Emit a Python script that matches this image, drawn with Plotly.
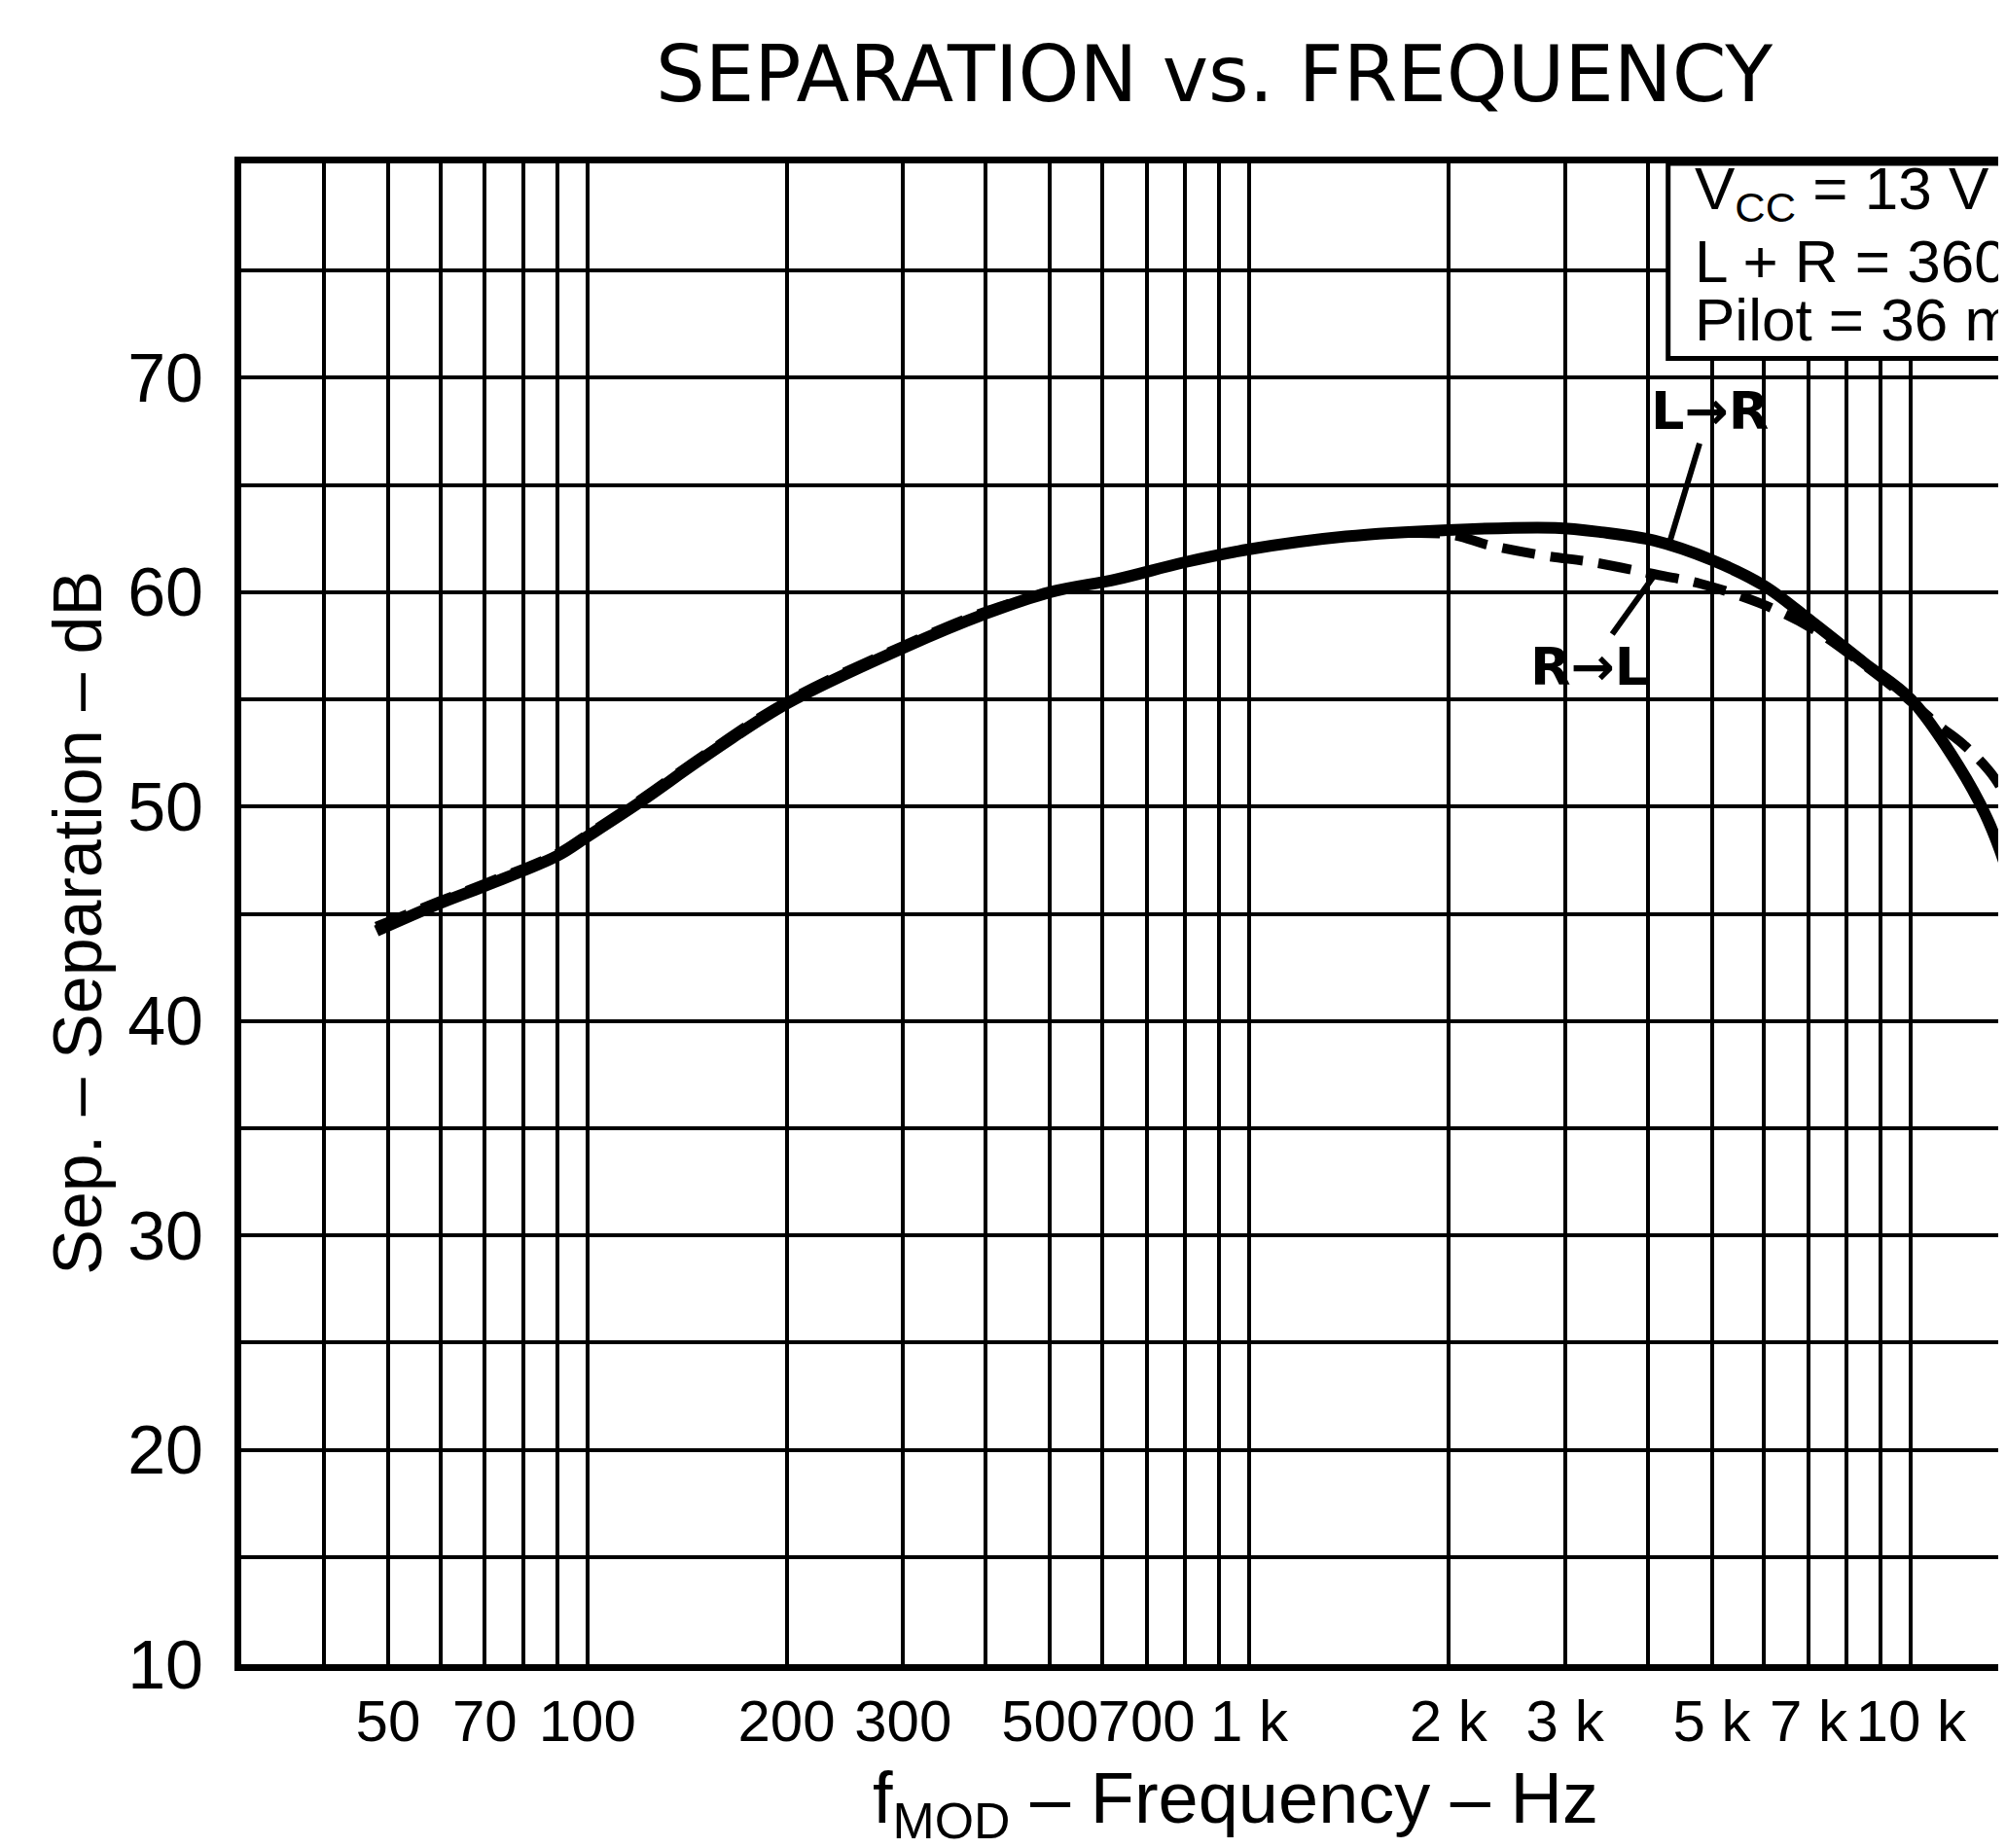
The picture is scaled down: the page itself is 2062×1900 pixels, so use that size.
import math
import plotly.graph_objects as go

# L -> R separation (solid), Hz / dB
freq_lr = [48, 60, 70, 90, 100, 120, 150, 200, 300, 400, 500, 630, 800,
           1000, 1400, 2000, 2900, 3400, 4100, 5000, 6000, 7100, 8500,
           10000, 11800, 13100, 14300, 15500]
sep_lr = [44.2, 45.5, 46.3, 47.7, 48.6, 50.2, 52.3, 54.8, 57.4, 59.0, 60.0,
          60.6, 61.4, 62.0, 62.6, 62.9, 63.0, 62.8, 62.4, 61.5, 60.3, 58.6,
          56.7, 55.0, 51.9, 49.3, 46.0, 41.5]

# R -> L separation (dashed)
freq_rl = [48, 60, 70, 90, 100, 120, 150, 200, 300, 400, 500, 630, 800,
           1000, 1400, 2000, 2300, 2800, 3300, 4000, 4800, 5900, 7100, 8500,
           10000, 11000, 12000, 13400, 14300, 15500]
sep_rl = [44.4, 45.6, 46.4, 47.8, 48.7, 50.3, 52.4, 54.9, 57.5, 59.1, 60.0,
          60.6, 61.4, 62.0, 62.6, 62.7, 62.2, 61.7, 61.4, 60.9, 60.4, 59.5,
          58.3, 56.6, 54.9, 53.8, 52.9, 51.3, 49.6, 47.0]

# grid / ticks
x_grid = [30, 40, 50, 60, 70, 80, 90, 100, 200, 300, 400, 500, 600, 700,
          800, 900, 1000, 2000, 3000, 4000, 5000, 6000, 7000, 8000, 9000,
          10000]
x_labels = {50: "50", 70: "70", 100: "100", 200: "200", 300: "300",
            500: "500", 700: "700", 1000: "1 k", 2000: "2 k", 3000: "3 k",
            5000: "5 k", 7000: "7 k", 10000: "10 k"}
y_grid = [10, 15, 20, 25, 30, 35, 40, 45, 50, 55, 60, 65, 70, 75, 80]
y_labels = {10: "10", 20: "20", 30: "30", 40: "40", 50: "50", 60: "60",
            70: "70"}

conditions = ["V<sub>CC</sub> = 13 V", "L + R = 360 mV", "Pilot = 36 mV"]

FONT = "Liberation Sans, Arial, sans-serif"
PLOT_H = 1900 - 160 - 197

fig = go.Figure()
fig.add_trace(go.Scatter(x=freq_lr, y=sep_lr, mode="lines", name="L→R",
                         line=dict(color="black", width=12, shape="spline")))
fig.add_trace(go.Scatter(x=freq_rl, y=sep_rl, mode="lines", name="R→L",
                         line=dict(color="black", width=10, shape="spline",
                                   dash="34px,16px")))

fig.update_xaxes(
    type="log", range=[math.log10(30), math.log10(14300)],
    tickvals=x_grid, ticktext=[x_labels.get(v, "") for v in x_grid],
    tickangle=0, showgrid=True, gridcolor="black", gridwidth=4,
    showline=True, linecolor="black", linewidth=7, mirror=True,
    ticks="", tickfont=dict(family=FONT, size=60, color="black"),
    zeroline=False,
)
fig.update_yaxes(
    range=[10, 80], tickvals=y_grid,
    ticktext=[y_labels.get(v, "") for v in y_grid],
    showgrid=True, gridcolor="black", gridwidth=4,
    showline=True, linecolor="black", linewidth=7, mirror=False,
    ticks="", ticklabelstandoff=18,
    tickfont=dict(family=FONT, size=70, color="black"), zeroline=False,
)

# conditions box (cut by the right edge like the scan)
fig.add_shape(type="rect", xref="paper", yref="y", x0=0.805, x1=1.2,
              y0=70.9, y1=80, fillcolor="white",
              line=dict(color="black", width=5), layer="above")
for txt, off in zip(conditions, [30, 100, 160]):
    fig.add_annotation(text=txt, xref="paper", yref="paper", x=0.819,
                       y=1 - off / PLOT_H, xanchor="left",
                       yanchor="middle", showarrow=False,
                       font=dict(family=FONT, size=62, color="black"))

# curve labels with leader lines
fig.add_annotation(text="<b>L→R</b>", x=math.log10(4330), y=62.45, ax=40,
                   ay=-132, showarrow=True, arrowhead=0, arrowwidth=6,
                   arrowcolor="black",
                   font=dict(family="DejaVu Sans, sans-serif", size=54,
                             color="black"))
fig.add_annotation(text="<b>R→L</b>", x=math.log10(4110), y=60.85, ax=-68,
                   ay=95, showarrow=True, arrowhead=0, arrowwidth=6,
                   arrowcolor="black",
                   font=dict(family="DejaVu Sans, sans-serif", size=54,
                             color="black"))

# titles
fig.add_annotation(text="SEPARATION vs. FREQUENCY", xref="paper",
                   yref="paper", x=0.549, y=1 + 92 / PLOT_H,
                   xanchor="center", yanchor="middle", showarrow=False,
                   font=dict(family="DejaVu Sans, sans-serif", size=80,
                             color="black"))
fig.add_annotation(text="Sep. – Separation – dB", xref="paper", yref="paper",
                   x=-168 / 1822, y=0.494, textangle=-90, xanchor="center",
                   yanchor="middle", showarrow=False,
                   font=dict(family=FONT, size=70, color="black"))
fig.add_annotation(text="f<sub>MOD</sub> – Frequency – Hz", xref="paper",
                   yref="paper", x=0.561, y=-0.093, xanchor="center",
                   yanchor="middle", showarrow=False,
                   font=dict(family=FONT, size=74, color="black"))

fig.update_layout(
    width=2062, height=1900, showlegend=False,
    margin=dict(l=240, r=0, t=160, b=197),
    plot_bgcolor="white", paper_bgcolor="white",
)

fig.write_html("out.html")
